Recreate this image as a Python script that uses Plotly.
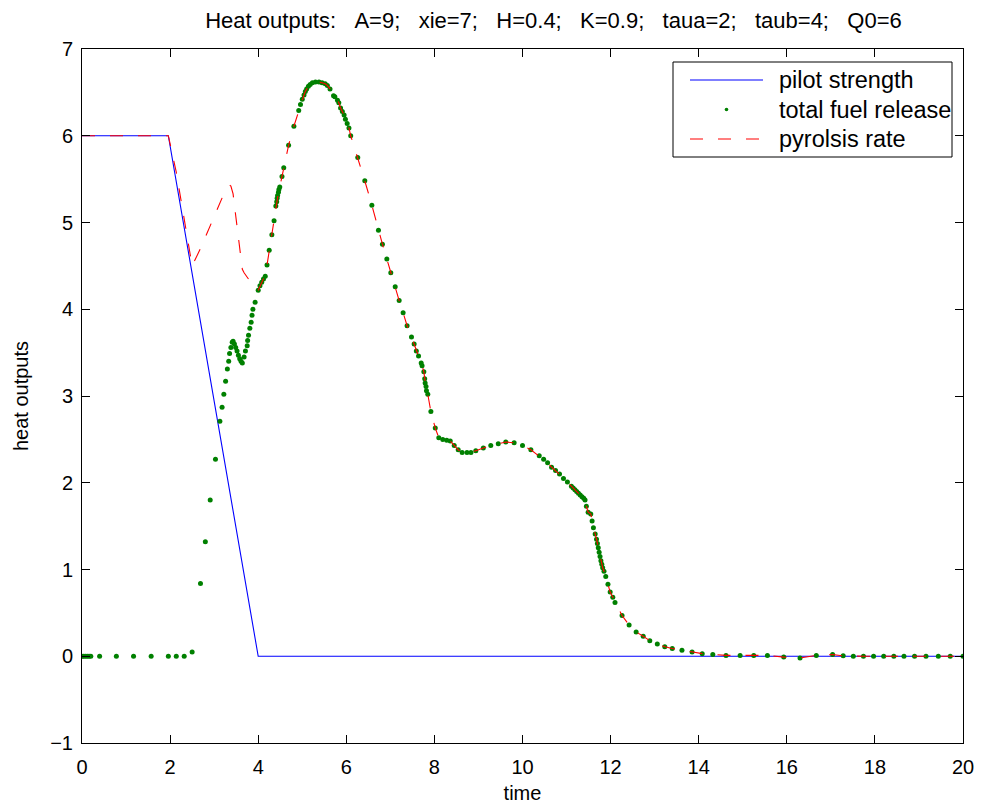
import plotly.graph_objects as go

# ---- data ----
t = [0, 0.04, 0.08, 0.12, 0.16, 0.20, 0.40, 0.78, 1.17, 1.57, 1.96, 2.14, 2.32, 2.50,
     2.69, 2.80, 2.91, 3.03, 3.13, 3.18, 3.22, 3.26, 3.30, 3.33, 3.35, 3.38, 3.41,
     3.43, 3.46, 3.49, 3.52, 3.55, 3.58, 3.61, 3.64, 3.68, 3.71, 3.75, 3.76, 3.78,
     3.81, 3.84, 3.86, 3.88, 3.93, 4.00, 4.04, 4.08, 4.12, 4.16, 4.20, 4.25, 4.31,
     4.36, 4.40, 4.42, 4.43, 4.44, 4.46, 4.47, 4.49, 4.54, 4.58, 4.69, 4.81, 4.92,
     4.96, 5.00, 5.04, 5.07, 5.10, 5.14, 5.18, 5.23, 5.30, 5.38, 5.45, 5.52, 5.57,
     5.63, 5.71, 5.74, 5.80, 5.83, 5.87, 5.91, 5.95, 5.98, 6.02, 6.06, 6.10, 6.26,
     6.42, 6.58, 6.73, 6.82, 6.92, 7.01, 7.11, 7.20, 7.29, 7.38, 7.48, 7.54, 7.59,
     7.64, 7.70, 7.72, 7.76, 7.78, 7.79, 7.81, 7.82, 7.85, 7.92, 8.02, 8.10, 8.19,
     8.28, 8.36, 8.45, 8.54, 8.63, 8.74, 8.83, 8.94, 9.11, 9.28, 9.45, 9.62, 9.81,
     10.00, 10.19, 10.38, 10.48, 10.57, 10.66, 10.75, 10.84, 10.93, 11.02, 11.11,
     11.15, 11.19, 11.23, 11.27, 11.31, 11.35, 11.39, 11.42, 11.45, 11.49, 11.55,
     11.58, 11.61, 11.65, 11.68, 11.70, 11.72, 11.74, 11.76, 11.78, 11.80, 11.82,
     11.85, 11.89, 11.94, 11.99, 12.05, 12.10, 12.26, 12.42, 12.58, 12.74, 12.89,
     13.06, 13.23, 13.40, 13.62, 13.85, 14.08, 14.32, 14.62, 14.94, 15.25, 15.56,
     15.93, 16.30, 16.67, 17.04, 17.28, 17.51, 17.74, 17.97, 18.20, 18.43, 18.66,
     18.90, 19.16, 19.44, 19.71, 20.00]

fuel = [0, 0, 0, 0, 0, 0, 0, 0, 0, 0, 0, 0, 0, 0.05,
        0.84, 1.32, 1.80, 2.27, 2.71, 2.87, 3.02, 3.17, 3.31, 3.40, 3.49, 3.56, 3.62,
        3.63, 3.60, 3.56, 3.52, 3.47, 3.43, 3.40, 3.38, 3.45, 3.52, 3.58, 3.64, 3.70,
        3.78, 3.85, 3.93, 4.00, 4.08, 4.22, 4.27, 4.31, 4.35, 4.38, 4.51, 4.68, 4.86,
        5.02, 5.19, 5.24, 5.28, 5.31, 5.35, 5.38, 5.41, 5.53, 5.63, 5.89, 6.11, 6.29,
        6.36, 6.42, 6.47, 6.51, 6.54, 6.57, 6.59, 6.61, 6.62, 6.62, 6.61, 6.60, 6.58,
        6.54, 6.46, 6.45, 6.41, 6.38, 6.32, 6.28, 6.24, 6.19, 6.14, 6.09, 6.00, 5.75,
        5.48, 5.20, 4.91, 4.75, 4.58, 4.42, 4.26, 4.10, 3.96, 3.81, 3.68, 3.60, 3.52,
        3.46, 3.38, 3.35, 3.28, 3.20, 3.15, 3.11, 3.06, 3.02, 2.82, 2.63, 2.52, 2.50,
        2.49, 2.48, 2.43, 2.38, 2.35, 2.35, 2.35, 2.37, 2.40, 2.43, 2.45, 2.47, 2.46,
        2.43, 2.38, 2.31, 2.27, 2.23, 2.18, 2.14, 2.10, 2.05, 2.01, 1.96,
        1.94, 1.92, 1.90, 1.88, 1.86, 1.84, 1.82, 1.80, 1.73, 1.66, 1.64,
        1.56, 1.48, 1.41, 1.35, 1.30, 1.25, 1.20, 1.15, 1.10, 1.06, 1.02,
        0.98, 0.92, 0.83, 0.74, 0.68, 0.62, 0.47, 0.36, 0.28, 0.23, 0.18,
        0.14, 0.11, 0.09, 0.07, 0.05, 0.03, 0.02, 0.01, 0.01, 0.01, 0.01,
        -0.01, -0.02, 0.01, 0.02, 0.005, 0, 0, 0, 0, 0, 0,
        0, 0, 0, 0, 0]

pyro = [6, 6, 6, 6, 6, 6, 6, 6, 6, 6, 6, 5.58, 5.04, 4.50,
        4.70, 4.83, 4.97, 5.12, 5.24, 5.29, 5.33, 5.37, 5.40, 5.42, 5.43, 5.42, 5.38,
        5.33, 5.20, 5.07, 4.95, 4.82, 4.69, 4.56, 4.46, 4.42, 4.40, 4.37, 4.36, 4.35,
        4.33, 4.31, 4.29, 4.27, 4.24, 4.22, 4.27, 4.31, 4.35, 4.38, 4.51, 4.68, 4.86,
        5.02, 5.19, 5.24, 5.28, 5.31, 5.35, 5.38, 5.41, 5.53, 5.63, 5.89, 6.11, 6.29,
        6.36, 6.42, 6.47, 6.51, 6.54, 6.57, 6.59, 6.61, 6.62, 6.62, 6.61, 6.60, 6.58,
        6.54, 6.46, 6.45, 6.41, 6.38, 6.32, 6.28, 6.24, 6.19, 6.14, 6.09, 6.00, 5.75,
        5.48, 5.20, 4.91, 4.75, 4.58, 4.42, 4.26, 4.10, 3.96, 3.81, 3.68, 3.60, 3.52,
        3.46, 3.38, 3.35, 3.28, 3.20, 3.15, 3.11, 3.06, 3.02, 2.82, 2.63, 2.52, 2.50,
        2.49, 2.48, 2.43, 2.38, 2.35, 2.35, 2.35, 2.37, 2.40, 2.43, 2.45, 2.47, 2.46,
        2.43, 2.38, 2.31, 2.27, 2.23, 2.18, 2.14, 2.10, 2.05, 2.01, 1.96,
        1.94, 1.92, 1.90, 1.88, 1.86, 1.84, 1.82, 1.80, 1.73, 1.66, 1.64,
        1.56, 1.48, 1.41, 1.35, 1.30, 1.25, 1.20, 1.15, 1.10, 1.06, 1.02,
        0.98, 0.92, 0.83, 0.74, 0.68, 0.62, 0.47, 0.36, 0.28, 0.23, 0.18,
        0.14, 0.11, 0.09, 0.07, 0.05, 0.03, 0.02, 0.01, 0.01, 0.01, 0.01,
        -0.01, -0.02, 0.01, 0.02, 0.005, 0, 0, 0, 0, 0, 0,
        0, 0, 0, 0, 0]

pilot_t = [0, 1.96, 4.0, 20]
pilot_v = [6, 6, 0, 0]

x_ticks = [0, 2, 4, 6, 8, 10, 12, 14, 16, 18, 20]
y_ticks = [-1, 0, 1, 2, 3, 4, 5, 6, 7]
y_tick_text = ["\u22121", "0", "1", "2", "3", "4", "5", "6", "7"]

series_names = ["pilot strength", "total fuel release", "pyrolsis rate"]
series_colors = ["#0000ff", "#008000", "#ff0000"]

SP = "\u00a0\u00a0\u00a0"
title_text = ("Heat outputs:" + SP + "A=9;" + SP + "xie=7;" + SP + "H=0.4;" + SP +
              "K=0.9;" + SP + "taua=2;" + SP + "taub=4;" + SP + "Q0=6")

FONT = "Liberation Sans, Arial, Helvetica, sans-serif"
DASH = "13px,15px"

# ---- layout geometry (figure pixels; page body adds an 8px offset) ----
W, H = 974, 799
ML, MR, MT, MB = 74, 19, 41, 64
PW, PH = W - ML - MR, H - MT - MB


def px(x):  # figure-pixel x -> paper x
    return (x - ML) / PW


def py(y):  # figure-pixel y -> paper y
    return (H - MB - y) / PH


fig = go.Figure()
fig.add_trace(go.Scatter(x=pilot_t, y=pilot_v, mode="lines", name=series_names[0],
                         line=dict(color=series_colors[0], width=1.1)))
fig.add_trace(go.Scatter(x=t, y=fuel, mode="markers", name=series_names[1],
                         marker=dict(color=series_colors[1], size=5, line=dict(width=0))))
fig.add_trace(go.Scatter(x=t, y=pyro, mode="lines", name=series_names[2],
                         line=dict(color=series_colors[2], width=1.1, dash=DASH)))

axis_common = dict(showline=True, linecolor="black", linewidth=1, mirror="ticks",
                   ticks="inside", ticklen=8, tickwidth=1, tickcolor="black",
                   showgrid=False, zeroline=False,
                   tickfont=dict(family=FONT, size=20, color="black"))

fig.update_xaxes(range=[0, 20], tickvals=x_ticks, ticklabelstandoff=6,
                 title=dict(text="time", font=dict(family=FONT, size=20, color="black"),
                            standoff=8),
                 **axis_common)
fig.update_yaxes(range=[-1, 7], tickvals=y_ticks, ticktext=y_tick_text, ticklabelstandoff=4,
                 title=dict(text="heat outputs", font=dict(family=FONT, size=20, color="black"),
                            standoff=16),
                 **axis_common)

# ---- MATLAB-style legend box (drawn as layout shapes/annotations) ----
box_l, box_r, box_t, box_b = 665, 944, 54, 149
row_y = [72, 101.5, 131]
samp_l, samp_r, text_x = 682, 755, 769

shapes = [dict(type="rect", xref="paper", yref="paper",
               x0=px(box_l), x1=px(box_r), y0=py(box_b), y1=py(box_t),
               line=dict(color="black", width=1), fillcolor="white", layer="above")]
shapes.append(dict(type="line", xref="paper", yref="paper",
                   x0=px(samp_l), x1=px(samp_r), y0=py(row_y[0]), y1=py(row_y[0]),
                   line=dict(color=series_colors[0], width=1.1), layer="above"))
cx = (samp_l + samp_r) / 2
shapes.append(dict(type="circle", xref="paper", yref="paper",
                   x0=px(cx - 1.8), x1=px(cx + 1.8), y0=py(row_y[1] + 1.8), y1=py(row_y[1] - 1.8),
                   line=dict(width=0), fillcolor=series_colors[1], layer="above"))
shapes.append(dict(type="line", xref="paper", yref="paper",
                   x0=px(samp_l), x1=px(samp_r), y0=py(row_y[2]), y1=py(row_y[2]),
                   line=dict(color=series_colors[2], width=1.1, dash=DASH), layer="above"))

annotations = [dict(text=name, xref="paper", yref="paper", x=px(text_x), y=py(yy),
                    xanchor="left", yanchor="middle", showarrow=False,
                    font=dict(family=FONT, size=23.5, color="black"))
               for name, yy in zip(series_names, row_y)]

fig.update_layout(
    width=W, height=H,
    margin=dict(l=ML, r=MR, t=MT, b=MB, autoexpand=False),
    paper_bgcolor="white", plot_bgcolor="white",
    title=dict(text=title_text, x=545.5 / W, xref="container", xanchor="center",
               y=1 - 12.5 / H, yref="container", yanchor="middle",
               font=dict(family=FONT, size=22, color="black")),
    showlegend=False,
    shapes=shapes,
    annotations=annotations,
)

fig.write_html("out.html")
